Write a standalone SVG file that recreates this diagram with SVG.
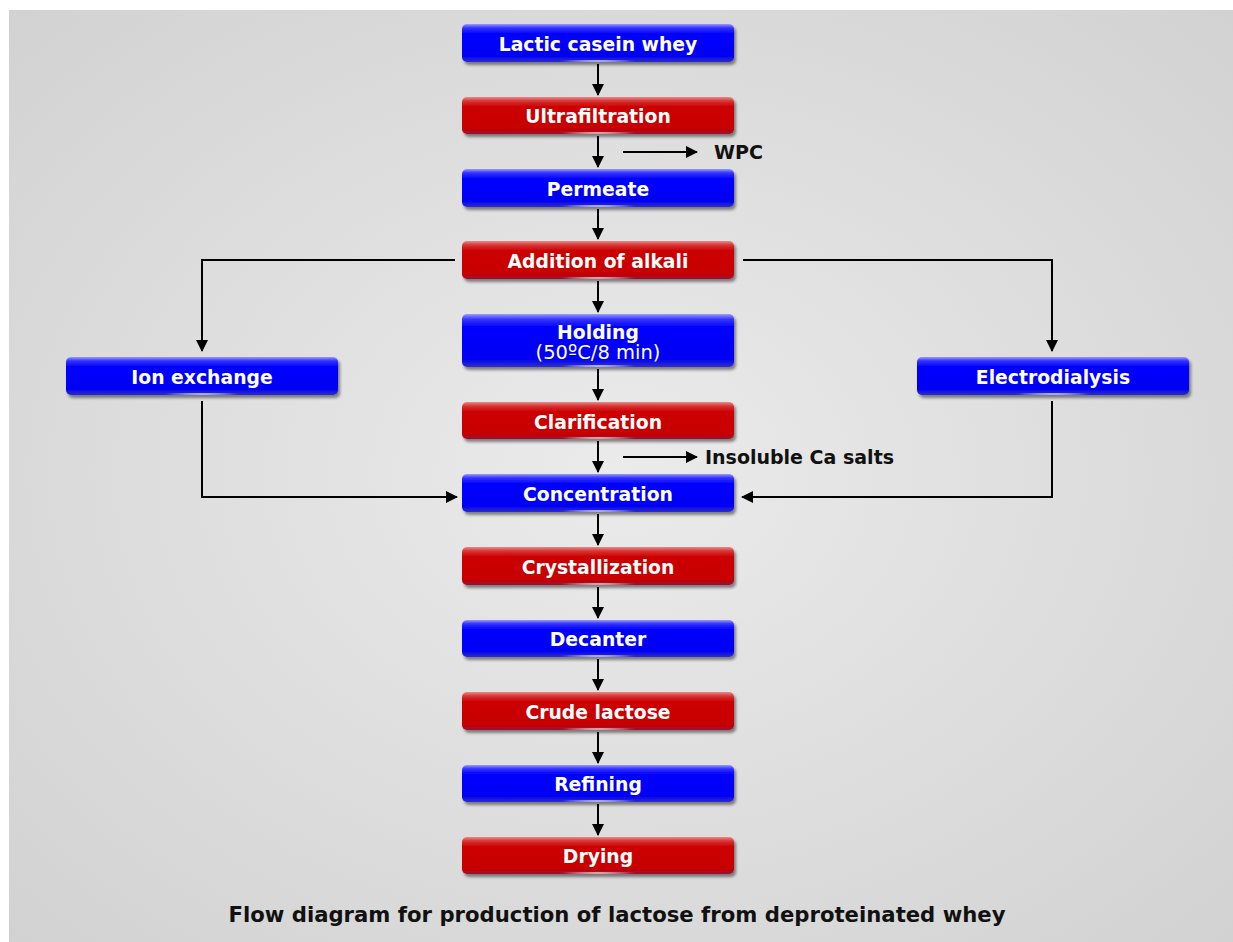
<svg xmlns="http://www.w3.org/2000/svg" width="1233" height="942" viewBox="0 0 1233 942">
<defs>
<radialGradient id="bg" cx="0.5" cy="0.5" r="0.7">
<stop offset="0" stop-color="#ebebeb"/>
<stop offset="1" stop-color="#d2d2d2"/>
</radialGradient>
<linearGradient id="gBlue" x1="0" y1="0" x2="0" y2="1">
<stop offset="0" stop-color="#9a9aff"/>
<stop offset="0.1" stop-color="#3535ff"/>
<stop offset="0.25" stop-color="#0000ff"/>
<stop offset="0.85" stop-color="#0000f4"/>
<stop offset="1" stop-color="#3030c8"/>
</linearGradient>
<linearGradient id="gRed" x1="0" y1="0" x2="0" y2="1">
<stop offset="0" stop-color="#e88a8a"/>
<stop offset="0.1" stop-color="#d83a3a"/>
<stop offset="0.25" stop-color="#cc0000"/>
<stop offset="0.85" stop-color="#c80000"/>
<stop offset="1" stop-color="#9a1030"/>
</linearGradient>
<radialGradient id="glow" cx="0.5" cy="0.5" r="0.5">
<stop offset="0" stop-color="#ffffff" stop-opacity="0.9"/>
<stop offset="1" stop-color="#ffffff" stop-opacity="0"/>
</radialGradient>
<filter id="sh" x="-10%" y="-30%" width="120%" height="170%">
<feDropShadow dx="2" dy="3" stdDeviation="1.6" flood-color="#000" flood-opacity="0.45"/>
</filter>
<marker id="ah" markerUnits="userSpaceOnUse" markerWidth="12" markerHeight="12" refX="11" refY="6" orient="auto">
<path d="M0,0 L12,6 L0,12 z" fill="#000"/>
</marker>
</defs>
<style>
.blue rect.b{fill:url(#gBlue);filter:url(#sh);}
.red rect.b{fill:url(#gRed);filter:url(#sh);}
.lbl{font-family:"DejaVu Sans",Verdana,sans-serif;font-weight:bold;font-size:18.8px;fill:#fff;text-anchor:middle;}
.sub{font-family:"DejaVu Sans",Verdana,sans-serif;font-weight:normal;font-size:19.5px;fill:#fff;text-anchor:middle;}
.side{font-family:"DejaVu Sans",Verdana,sans-serif;font-weight:bold;font-size:19px;fill:#111;}
.cap{font-family:"DejaVu Sans",Verdana,sans-serif;font-weight:bold;font-size:21.2px;fill:#111;text-anchor:middle;}
.ln{stroke:#000;stroke-width:2;fill:none;marker-end:url(#ah);}
ellipse.gl{fill:url(#glow);}
</style>
<rect x="9" y="10" width="1224" height="932" fill="url(#bg)"/>

<g id="n1" class="blue"><rect class="b" x="462" y="24" width="272" height="38" rx="5"/><ellipse class="gl" cx="598" cy="61" rx="40" ry="1.5"/><text class="lbl" x="598" y="51">Lactic casein whey</text></g>
<g id="n2" class="red"><rect class="b" x="462" y="97" width="272" height="37" rx="5"/><ellipse class="gl" cx="598" cy="133" rx="40" ry="1.5"/><text class="lbl" x="598" y="123">Ultrafiltration</text></g>
<g id="n3" class="blue"><rect class="b" x="462" y="169" width="272" height="38" rx="5"/><ellipse class="gl" cx="598" cy="206" rx="40" ry="1.5"/><text class="lbl" x="598" y="196">Permeate</text></g>
<g id="n4" class="red"><rect class="b" x="462" y="241" width="272" height="38" rx="5"/><ellipse class="gl" cx="598" cy="278" rx="40" ry="1.5"/><text class="lbl" x="598" y="268">Addition of alkali</text></g>
<g id="n5" class="blue"><rect class="b" x="462" y="314" width="272" height="53" rx="5"/><ellipse class="gl" cx="598" cy="366" rx="40" ry="1.5"/><text class="lbl" x="598" y="339">Holding</text><text class="sub" x="598" y="359">(50ºC/8 min)</text></g>
<g id="n6" class="red"><rect class="b" x="462" y="402" width="272" height="37" rx="5"/><ellipse class="gl" cx="598" cy="438" rx="40" ry="1.5"/><text class="lbl" x="598" y="429">Clarification</text></g>
<g id="n7" class="blue"><rect class="b" x="462" y="474" width="272" height="38" rx="5"/><ellipse class="gl" cx="598" cy="511" rx="40" ry="1.5"/><text class="lbl" x="598" y="501">Concentration</text></g>
<g id="n8" class="red"><rect class="b" x="462" y="547" width="272" height="38" rx="5"/><ellipse class="gl" cx="598" cy="584" rx="40" ry="1.5"/><text class="lbl" x="598" y="574">Crystallization</text></g>
<g id="n9" class="blue"><rect class="b" x="462" y="620" width="272" height="37" rx="5"/><ellipse class="gl" cx="598" cy="656" rx="40" ry="1.5"/><text class="lbl" x="598" y="646">Decanter</text></g>
<g id="n10" class="red"><rect class="b" x="462" y="692" width="272" height="38" rx="5"/><ellipse class="gl" cx="598" cy="729" rx="40" ry="1.5"/><text class="lbl" x="598" y="719">Crude lactose</text></g>
<g id="n11" class="blue"><rect class="b" x="462" y="765" width="272" height="37" rx="5"/><ellipse class="gl" cx="598" cy="801" rx="40" ry="1.5"/><text class="lbl" x="598" y="791">Refining</text></g>
<g id="n12" class="red"><rect class="b" x="462" y="837" width="272" height="37" rx="5"/><ellipse class="gl" cx="598" cy="873" rx="40" ry="1.5"/><text class="lbl" x="598" y="863">Drying</text></g>
<g id="n13" class="blue"><rect class="b" x="66" y="357" width="272" height="38" rx="5"/><ellipse class="gl" cx="202" cy="394" rx="40" ry="1.5"/><text class="lbl" x="202" y="384">Ion exchange</text></g>
<g id="n14" class="blue"><rect class="b" x="917" y="357" width="272" height="38" rx="5"/><ellipse class="gl" cx="1053" cy="394" rx="40" ry="1.5"/><text class="lbl" x="1053" y="384">Electrodialysis</text></g>

<g id="connectors">
<line class="ln" x1="598" y1="64" x2="598" y2="95"/>
<line class="ln" x1="598" y1="136" x2="598" y2="167"/>
<line class="ln" x1="598" y1="209" x2="598" y2="239"/>
<line class="ln" x1="598" y1="281" x2="598" y2="312"/>
<line class="ln" x1="598" y1="369" x2="598" y2="400"/>
<line class="ln" x1="598" y1="441" x2="598" y2="472"/>
<line class="ln" x1="598" y1="514" x2="598" y2="545"/>
<line class="ln" x1="598" y1="587" x2="598" y2="618"/>
<line class="ln" x1="598" y1="659" x2="598" y2="690"/>
<line class="ln" x1="598" y1="732" x2="598" y2="763"/>
<line class="ln" x1="598" y1="804" x2="598" y2="835"/>
<line class="ln" x1="623" y1="152" x2="697" y2="152"/>
<line class="ln" x1="623" y1="457" x2="697" y2="457"/>
<polyline class="ln" points="455,260 202,260 202,351"/>
<polyline class="ln" points="743,260 1052,260 1052,351"/>
<polyline class="ln" points="202,401 202,497 457,497"/>
<polyline class="ln" points="1052,401 1052,497 742,497"/>
</g>
<text class="side" x="714" y="159">WPC</text>
<text class="side" x="705" y="464">Insoluble Ca salts</text>
<text class="cap" x="617" y="922">Flow diagram for production of lactose from deproteinated whey</text>
</svg>
